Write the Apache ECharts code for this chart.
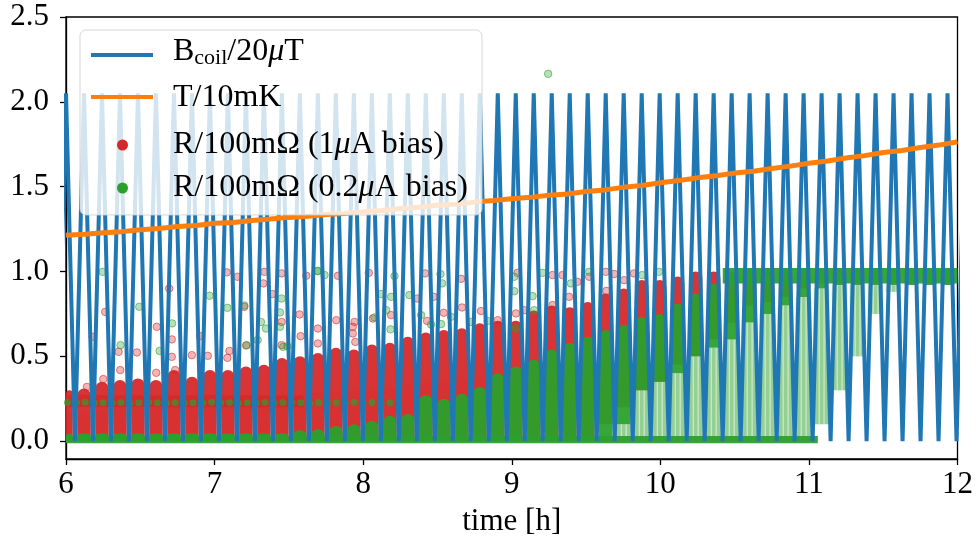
<!DOCTYPE html>
<html><head><meta charset="utf-8">
<script src="https://cdn.jsdelivr.net/npm/echarts@6/dist/echarts.min.js"></script>
<style>html,body{margin:0;padding:0;background:#fff}#c{width:976px;height:547px}</style>
</head><body><div id="c"></div>
<script>
// ---------- data ----------
const xTicks = [6, 7, 8, 9, 10, 11, 12];
const yTicks = [0, 0.5, 1, 1.5, 2, 2.5];

// coil field / 20uT : vertices of the triangular sweep (time [h], value)
const coilTimes = [5.9395,6.0000,6.0605,6.1211,6.1816,6.2422,6.3027,6.3632,6.4238,6.4843,6.5449,6.6054,6.6659,6.7265,6.7870,6.8476,6.9081,6.9686,7.0292,7.0897,7.1503,7.2108,7.2713,7.3319,7.3924,7.4530,7.5135,7.5740,7.6346,7.6951,7.7557,7.8162,7.8767,7.9373,7.9978,8.0584,8.1189,8.1794,8.2400,8.3005,8.3611,8.4216,8.4821,8.5427,8.6032,8.6638,8.7243,8.7848,8.8454,8.9059,8.9665,9.0270,9.0875,9.1481,9.2086,9.2692,9.3297,9.3902,9.4508,9.5113,9.5719,9.6324,9.6929,9.7535,9.8140,9.8746,9.9351,9.9956,10.0562,10.1167,10.1773,10.2378,10.2983,10.3589,10.4194,10.4800,10.5405,10.6010,10.6616,10.7221,10.7827,10.8432,10.9037,10.9643,11.0248,11.0854,11.1459,11.2064,11.2670,11.3275,11.3881,11.4486,11.5091,11.5697,11.6302,11.6908,11.7513,11.8118,11.8724,11.9329,11.9935,12.0540];
const coilValues = [0,2.05,0,2.05,0,2.05,0,2.05,0,2.05,0,2.05,0,2.05,0,2.05,0,2.05,0,2.05,0,2.05,0,2.05,0,2.05,0,2.05,0,2.05,0,2.05,0,2.05,0,2.05,0,2.05,0,2.05,0,2.05,0,2.05,0,2.05,0,2.05,0,2.05,0,2.05,0,2.05,0,2.05,0,2.05,0,2.05,0,2.05,0,2.05,0,2.05,0,2.05,0,2.05,0,2.05,0,2.05,0,2.05,0,2.05,0,2.05,0,2.05,0,2.05,0,2.05,0,2.05,0,2.05,0,2.05,0,2.05,0,2.05,0,2.05,0,2.05,0,2.05,0,2.05];

// temperature / 10mK
const tempTimes = [6.000,6.125,6.250,6.375,6.500,6.625,6.750,6.875,7.000,7.125,7.250,7.375,7.500,7.625,7.750,7.875,8.000,8.125,8.250,8.375,8.500,8.625,8.750,8.875,9.000,9.125,9.250,9.375,9.500,9.625,9.750,9.875,10.000,10.125,10.250,10.375,10.500,10.625,10.750,10.875,11.000,11.125,11.250,11.375,11.500,11.625,11.750,11.875,12.000];
const tempValues = [1.213,1.219,1.229,1.235,1.246,1.253,1.265,1.271,1.284,1.289,1.301,1.309,1.319,1.325,1.336,1.342,1.353,1.360,1.371,1.379,1.391,1.397,1.409,1.418,1.429,1.437,1.450,1.457,1.471,1.481,1.496,1.507,1.523,1.536,1.552,1.564,1.580,1.591,1.607,1.621,1.638,1.651,1.669,1.683,1.701,1.713,1.731,1.745,1.765];

// resistance clusters, one per field sweep maximum (time of sweep maximum)
const sweepPeakTimes = [6.0000,6.1211,6.2422,6.3632,6.4843,6.6054,6.7265,6.8476,6.9686,7.0897,7.2108,7.3319,7.4530,7.5740,7.6951,7.8162,7.9373,8.0584,8.1794,8.3005,8.4216,8.5427,8.6638,8.7848,8.9059,9.0270,9.1481,9.2692,9.3902,9.5113,9.6324,9.7535,9.8746,9.9956,10.1167,10.2378,10.3589,10.4800,10.6010,10.7221,10.8432,10.9643,11.0854,11.2064,11.3275,11.4486,11.5697,11.6908,11.8118,11.9329];
// R/100mOhm, 1uA bias: sparse top of the spread near zero, dense cluster low / high per sweep
const redSpreadHigh = [0.17,0.17,0.19,0.2,0.2,0.2,0.23,0.21,0.23,0.23,0.24,0.25,0.27,0.27,0.29,0.3,0.3,0.31,0.32,0.34,0.35,0.36,0.37,0.38,0.39,0.39,0.42,0.44,0.43,0.45,null,null,null,null,null,null,null,null,null,null,null,null,null,null,null,null,null,null,null,null];
const redLow  = [0.02,0.02,0.02,0.02,0.02,0.02,0.02,0.02,0.02,0.02,0.02,0.02,0.02,0.02,0.02,0.02,0.02,0.02,0.02,0.02,0.02,0.02,0.02,0.02,0.02,0.02,0.02,0.02,0.02,0.02,0.10,0.20,0.30,0.35,0.45,0.50,0.60,0.70,0.80,0.82,0.85,0.90,null,null,null,null,null,null,null,null];
const redHigh = [0.30,0.31,0.35,0.36,0.37,0.36,0.42,0.38,0.42,0.42,0.44,0.45,0.49,0.50,0.52,0.55,0.54,0.57,0.58,0.615,0.64,0.655,0.665,0.695,0.71,0.71,0.77,0.80,0.79,0.82,0.87,0.90,0.95,0.95,0.97,1.00,1.00,1.00,1.00,1.00,1.00,1.00,null,null,null,null,null,null,null,null];
// R/100mOhm, 0.2uA bias: sparse low, dense low, dense high per sweep
const greenSparseLow = [0,0,0,0,0,0,0,0,0,0,0,0,0,0,0,0,0,0,0,0,0,0,0,0,0,0,0,0,0,0,0,0,0,0,0,0,0,0,0,0,0,0,0.10,0.30,0.50,0.75,0.88,0.92,0.92,0.92];
const greenDenseLow  = [0,0,0,0,0,0,0,0,0,0,0,0,0,0,0,0,0,0,0,0,0,0,0,0,0,0,0,0,0,0,0,0.10,0.30,0.35,0.40,0.50,0.55,0.60,0.70,0.75,0.80,0.85,0.90,0.92,0.92,0.92,0.92,0.92,0.92,0.92];
const greenHigh = [0.045,0.045,0.045,0.045,0.045,0.045,0.045,0.045,0.045,0.045,0.045,0.045,0.045,0.065,0.07,0.09,0.10,0.12,0.15,0.16,0.27,0.25,0.28,0.32,0.40,0.44,0.48,0.54,0.58,0.615,0.655,0.685,0.73,0.75,0.81,0.87,0.93,1.00,1.02,1.02,1.02,1.02,1.02,1.02,1.02,1.02,1.02,1.02,1.02,1.02];

// continuous bands: [t start, t end, low, high]
const redBand = [6.0, 7.6, 0.20, 0.27];
const greenBottomBand = [5.9, 11.06, -0.012, 0.03];
const greenTopBand = [10.42, 12.1, 0.93, 1.02];
// row of 0.2uA points at constant level
const greenRowT = [6.01,6.07,6.13,6.19,6.25,6.31,6.37,6.43,6.49,6.555,6.615,6.675,6.735,6.795,6.855,6.92,6.98,7.04,7.10,7.16,7.22,7.28,7.34,7.40,7.46,7.52,7.58,7.64,7.70,7.76,7.82,7.88,7.94,8.00,8.06,8.12,8.18];
const greenRowV = [0.228,0.226,0.229,0.225,0.227,0.226,0.228,0.224,0.227,0.229,0.226,0.225,0.228,0.226,0.227,0.225,0.229,0.226,0.228,0.224,0.227,0.226,0.229,0.225,0.228,0.226,0.227,0.224,0.228,0.226,0.227,0.225,0.229,0.226,0.228,0.225,0.227];

// isolated points
const redOutT = [7.082,7.154,7.335,7.451,7.328,7.389,6.694,6.264,7.200,7.451,6.611,6.712,6.179,6.477,6.354,6.712,6.847,6.954,7.086,7.100,7.212,7.451,6.903,6.251,6.365,6.607,6.735,6.141,7.695,7.930,7.617,7.830,8.038,8.417,8.659,7.572,7.819,7.942,7.930,8.065,8.188,8.363,8.475,8.542,8.665,8.793,8.905,8.430,7.579,7.695,7.947,9.039,9.274,9.342,9.521,9.633,9.689,9.823,9.084,9.028,9.274,9.386,9.442,9.637,9.756];
const redOutV = [0.995,0.969,0.998,0.989,0.930,0.867,0.900,0.762,0.792,0.703,0.674,0.600,0.615,0.523,0.527,0.497,0.507,0.503,0.491,0.532,0.564,0.566,0.619,0.366,0.419,0.403,0.419,0.320,0.664,0.674,0.975,0.975,0.992,0.989,0.957,0.747,0.713,0.703,0.635,0.723,0.743,0.841,0.851,0.757,0.788,0.767,0.713,0.709,0.619,0.576,0.585,0.992,0.979,0.979,0.969,0.998,0.985,0.989,0.772,0.753,0.802,0.851,0.939,0.886,0.949];
const greenOutT = [6.247,6.493,6.966,7.086,7.200,6.714,6.367,6.630,7.312,7.346,7.440,7.462,7.451,7.440,7.290,7.216,7.691,7.740,7.695,8.211,8.520,8.531,8.311,8.188,8.121,8.155,8.076,8.184,8.390,8.457,8.524,8.591,8.726,8.838,7.490,9.245,9.017,9.017,9.140,9.207,9.398,9.521,9.879,9.991,9.028,9.151];
const greenOutV = [0.998,0.792,0.857,0.786,0.800,0.694,0.566,0.532,0.703,0.664,0.674,0.556,0.841,0.759,0.596,0.566,1.002,0.979,1.004,0.973,0.985,0.930,0.861,0.851,0.867,0.772,0.729,0.659,0.743,0.688,0.690,0.733,0.703,0.709,0.560,2.165,0.969,0.884,0.855,0.992,0.930,0.998,0.979,0.998,0.664,0.772];

// ---------- chart ----------
const FONT = '"Liberation Serif", "Times New Roman", serif';
const RED = '#d62728', GREEN = '#2ca02c', BLUE = '#1f77b4', ORANGE = '#ff7f0e';

function zip(a, b) { return a.map((v, i) => [v, b[i]]); }
function cols(lo, hi) {
  const out = [];
  sweepPeakTimes.forEach((t, i) => {
    if (lo[i] != null && hi[i] != null && hi[i] > lo[i]) out.push([t, lo[i], hi[i]]);
  });
  return out;
}
function clipRect(shape, cs) {
  return echarts.graphic.clipRectByRect(shape, {x: cs.x, y: cs.y, width: cs.width, height: cs.height});
}
function columnRender(widthH, fill, rounded) {
  return function (params, api) {
    const t = api.value(0), lo = api.value(1), hi = api.value(2);
    const a = api.coord([t - widthH / 2, hi]);
    const b = api.coord([t + widthH / 2, lo]);
    const w = b[0] - a[0], h = b[1] - a[1];
    const rr = rounded ? Math.min(w / 2, h / 2) : 0;
    const shape = clipRect({x: a[0], y: a[1], width: w, height: h}, params.coordSys);
    if (!shape) return;
    shape.r = [rr, rr, 0, 0];
    return {type: 'rect', shape: shape, style: {fill: fill}};
  };
}
// sparse cloud: faint body plus dotted vertical streaks
function streakRender(widthH, color) {
  return function (params, api) {
    const t = api.value(0), lo = api.value(1), hi = api.value(2);
    const a = api.coord([t - widthH / 2, hi]);
    const b = api.coord([t + widthH / 2, lo]);
    const w = b[0] - a[0], h = b[1] - a[1];
    const children = [];
    const body = clipRect({x: a[0], y: a[1], width: w, height: h}, params.coordSys);
    if (body) children.push({type: 'rect', shape: body, style: {fill: 'rgba(' + color + ',0.14)'}});
    [0.2, 0.5, 0.8].forEach(f => {
      const s = clipRect({x: a[0] + w * f - 2, y: a[1], width: 4, height: h}, params.coordSys);
      if (s) children.push({type: 'rect', shape: s, style: {fill: 'rgba(' + color + ',0.42)'}});
    });
    return {type: 'group', children: children};
  };
}
function bandRender(fill) {
  return function (params, api) {
    const a = api.coord([api.value(0), api.value(3)]);
    const b = api.coord([api.value(1), api.value(2)]);
    const shape = clipRect({x: a[0], y: a[1], width: b[0] - a[0], height: b[1] - a[1]}, params.coordSys);
    if (!shape) return;
    return {type: 'rect', shape: shape, style: {fill: fill}};
  };
}

const chart = echarts.init(document.getElementById('c'), null, {renderer: 'canvas'});
const labelStyle = {color: '#000', fontSize: 31, fontFamily: FONT};

const series = [
  // R, 1uA bias
  {name: 'R1', type: 'custom', renderItem: columnRender(0.121, 'rgba(214,39,40,0.28)', true),
   data: cols(sweepPeakTimes.map(() => 0), redSpreadHigh), encode: {x: 0, y: [1, 2]}},
  {name: 'R1', type: 'custom', renderItem: bandRender('rgba(214,39,40,0.85)'),
   data: [redBand], encode: {x: [0, 1], y: [2, 3]}},
  {name: 'R1', type: 'custom', renderItem: columnRender(0.09, 'rgba(214,39,40,0.94)', true),
   data: cols(redLow, redHigh), encode: {x: 0, y: [1, 2]}},
  {name: 'R1', type: 'scatter', symbolSize: 7.5, data: zip(redOutT, redOutV),
   itemStyle: {color: 'rgba(214,39,40,0.42)', borderColor: 'rgba(214,39,40,0.7)', borderWidth: 1}},
  // R, 0.2uA bias
  {name: 'R02', type: 'custom', renderItem: streakRender(0.11, '44,160,44'),
   data: cols(greenSparseLow, greenDenseLow), encode: {x: 0, y: [1, 2]}},
  {name: 'R02', type: 'custom', renderItem: bandRender('rgba(44,160,44,0.95)'),
   data: [greenBottomBand, greenTopBand], encode: {x: [0, 1], y: [2, 3]}},
  {name: 'R02', type: 'custom', renderItem: columnRender(0.09, 'rgba(44,160,44,0.95)', true),
   data: cols(greenDenseLow, greenHigh), encode: {x: 0, y: [1, 2]}},
  {name: 'R02', type: 'scatter', symbolSize: 7, data: zip(greenRowT, greenRowV),
   itemStyle: {color: 'rgba(44,160,44,0.85)'}},
  {name: 'R02', type: 'scatter', symbolSize: 7.5, data: zip(greenOutT, greenOutV),
   itemStyle: {color: 'rgba(44,160,44,0.42)', borderColor: 'rgba(44,160,44,0.7)', borderWidth: 1}},
  // coil field
  {name: 'B', type: 'line', data: zip(coilTimes, coilValues), showSymbol: false, symbol: 'none',
   lineStyle: {color: BLUE, width: 4}, clip: true},
  // temperature
  {name: 'T', type: 'line', data: zip(tempTimes, tempValues), showSymbol: false, symbol: 'none',
   lineStyle: {color: ORANGE, width: 5}, clip: true}
];

const legendRows = [55, 97, 145, 188];
const LF = 32;
const option = {
  animation: false,
  backgroundColor: '#fff',
  grid: {left: 66, right: 17, top: 17, bottom: 88, show: true, borderColor: '#000', borderWidth: 1.3, containLabel: false},
  xAxis: {
    type: 'value', min: 6, max: 12, interval: 1,
    axisLine: {show: true, onZero: false, lineStyle: {color: '#000', width: 1.3}},
    axisTick: {show: true, length: 6, lineStyle: {color: '#000', width: 1.3}},
    axisLabel: Object.assign({margin: 10, formatter: v => String(v)}, labelStyle),
    splitLine: {show: false},
    name: 'time [h]', nameLocation: 'middle', nameGap: 47,
    nameTextStyle: {color: '#000', fontSize: 31, fontFamily: FONT}
  },
  yAxis: {
    type: 'value', min: -0.105, max: 2.5,
    axisLine: {show: true, onZero: false, lineStyle: {color: '#000', width: 1.3}},
    axisTick: {show: true, length: 6, lineStyle: {color: '#000', width: 1.3}, customValues: yTicks},
    axisLabel: Object.assign({margin: 17, customValues: yTicks, formatter: v => Number(v).toFixed(1)}, labelStyle),
    splitLine: {show: false}
  },
  series: series,
  graphic: [
    {type: 'rect', shape: {x: 80, y: 30, width: 402, height: 185, r: 6}, z: 100,
     style: {fill: 'rgba(255,255,255,0.8)', stroke: 'rgba(204,204,204,0.8)', lineWidth: 1}},
    {type: 'line', shape: {x1: 91, y1: legendRows[0], x2: 153, y2: legendRows[0]}, z: 101, style: {stroke: BLUE, lineWidth: 4}},
    {type: 'line', shape: {x1: 91, y1: legendRows[1], x2: 153, y2: legendRows[1]}, z: 101, style: {stroke: ORANGE, lineWidth: 4}},
    {type: 'circle', shape: {cx: 122.5, cy: legendRows[2], r: 5.5}, z: 101, style: {fill: RED}},
    {type: 'circle', shape: {cx: 122.5, cy: legendRows[3], r: 5.5}, z: 101, style: {fill: GREEN}},
    {type: 'text', x: 173, y: 52, z: 101, style: {
      text: '{n|B}{s|coil}{n|/20}{i|μ}{n|T}', verticalAlign: 'middle', fill: '#000',
      rich: {n: {fontSize: LF, fontFamily: FONT, lineHeight: 34},
             i: {fontSize: LF, fontFamily: FONT, fontStyle: 'italic', lineHeight: 34},
             s: {fontSize: 22, fontFamily: FONT, lineHeight: 20, verticalAlign: 'bottom'}}}},
    {type: 'text', x: 173, y: 98, z: 101, style: {text: 'T/10mK', font: LF + 'px ' + FONT, fill: '#000', verticalAlign: 'middle'}},
    {type: 'text', x: 173, y: 145, z: 101, style: {
      text: '{n|R/100mΩ (1}{i|μ}{n|A bias)}', verticalAlign: 'middle', fill: '#000',
      rich: {n: {fontSize: LF, fontFamily: FONT}, i: {fontSize: LF, fontFamily: FONT, fontStyle: 'italic'}}}},
    {type: 'text', x: 173, y: 188, z: 101, style: {
      text: '{n|R/100mΩ (0.2}{i|μ}{n|A bias)}', verticalAlign: 'middle', fill: '#000',
      rich: {n: {fontSize: LF, fontFamily: FONT}, i: {fontSize: LF, fontFamily: FONT, fontStyle: 'italic'}}}}
  ]
};
chart.setOption(option);
</script>
</body></html>
